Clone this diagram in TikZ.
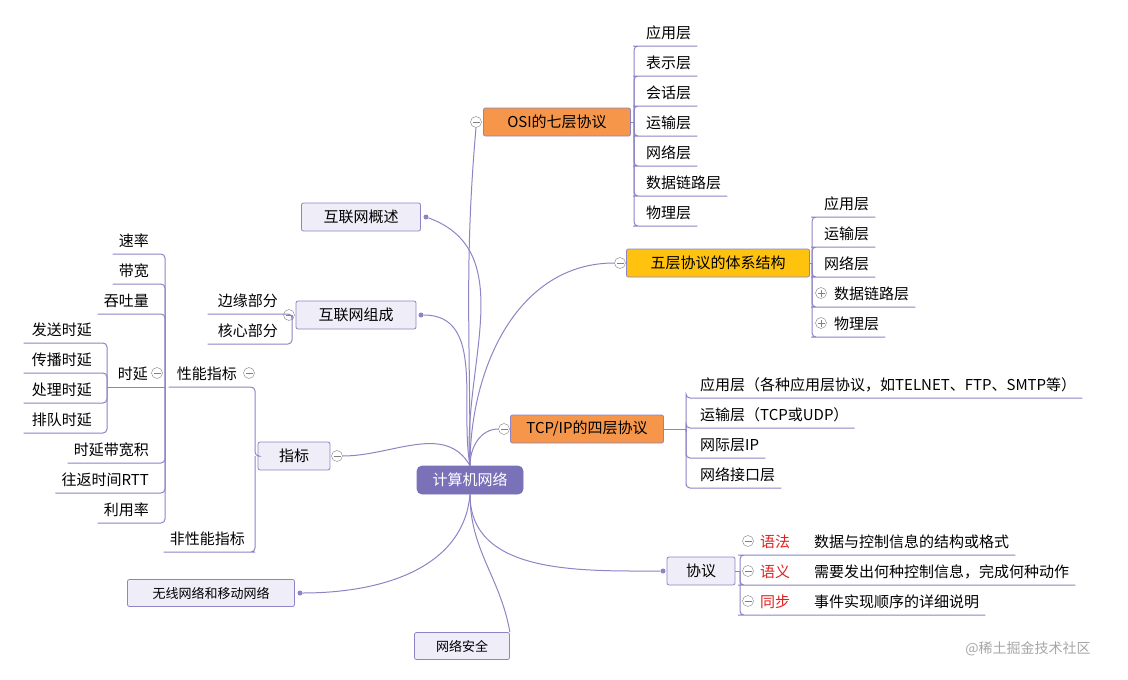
\documentclass[tikz,border=0pt]{standalone}
\usepackage{fontspec}
\setmainfont{Noto Sans CJK SC}
\usetikzlibrary{positioning}
\definecolor{linkc}{HTML}{8C84C4}
\definecolor{rootc}{HTML}{7A72B8}
\definecolor{boxc}{HTML}{EEEDF8}
\definecolor{orangec}{HTML}{F5964A}
\definecolor{yellowc}{HTML}{FFC20E}
\definecolor{redc}{HTML}{E02020}

\begin{document}
\begin{tikzpicture}[x=1pt, y=-1pt, font=\fontsize{15}{17}\selectfont,
  link/.style = {draw=linkc, line width=1pt},
  rounded link/.style = {link, rounded corners=4pt},
  topic/.style = {draw=linkc, fill=boxc, rounded corners=2pt, line width=0.8pt, minimum height=28pt, inner xsep=6pt},
  hot/.style = {topic, fill=orangec},
  leaf/.style = {inner xsep=6pt, inner ysep=6pt},
  minus/.style = {draw=gray, circle, fill=white, inner sep=0pt, minimum size=11pt,
    path picture={\draw[gray] ([xshift=-3.5pt]path picture bounding box.center) -- ([xshift=3.5pt]path picture bounding box.center);}},
  plus/.style = {minus, path picture={\draw[gray] ([xshift=-3.5pt]path picture bounding box.center) -- ([xshift=3.5pt]path picture bounding box.center) ([yshift=-3.5pt]path picture bounding box.center) -- ([yshift=3.5pt]path picture bounding box.center);}},
  dot/.style = {circle, fill=linkc, inner sep=0pt, minimum size=5pt}]
\useasboundingbox (0,0) rectangle (1128,680);

% centre
\node[topic, fill=rootc, draw=rootc, text=white, rounded corners=5pt, minimum width=106pt] (root) at (470,480) {计算机网络};

% right side
\node[hot, minimum width=147pt] (osi) at (557,122) {OSI的七层协议};
\node[minus] (osim) at (476,122) {};
\node[topic, fill=yellowc, minimum width=183pt] (five) at (718,263) {五层协议的体系结构};
\node[minus] (fivem) at (620,263) {};
\node[hot, minimum width=153pt] (tcp) at (587,429) {TCP/IP的四层协议};
\node[minus] (tcpm) at (504,429) {};
\node[topic, minimum width=68pt] (prot) at (701,571) {协议};
\node[dot] (protd) at (663,571) {};
\node[topic, minimum height=27pt, minimum width=95pt, font=\fontsize{13}{15}\selectfont] (sec) at (462,646) {网络安全};

% left side
\node[topic, minimum width=119pt] (over) at (361,217) {互联网概述};
\node[dot] (overd) at (426,217) {};
\node[topic, minimum width=120pt] (comp) at (356,315) {互联网组成};
\node[dot] (compd) at (421,315) {};
\node[minus] (compm) at (289,315) {};
\node[topic, minimum width=72pt] (ind) at (294,456) {指标};
\node[minus] (indm) at (337,456) {};
\node[topic, minimum height=27pt, minimum width=167pt, font=\fontsize{13}{15}\selectfont] (wire) at (211,593) {无线网络和移动网络};
\node[dot] (wired) at (300,593) {};

% links from the centre
\draw[link] (root.north) to[out=90, in=-95] (osim.south);
\draw[link] (root.north) to[out=90, in=180] (fivem.west);
\draw[link] (root.north) to[out=90, in=180] (tcpm.west);
\draw[link] (root.south) to[out=-90, in=180] (protd);
\draw[link] (root.south) to[out=-90, in=100] (sec.north east);
\draw[link] (root.north) to[out=95, in=-20] (overd);
\draw[link] (root.north) to[out=100, in=0] (compd);
\draw[link] (root.north) to[out=120, in=0] (indm.east);
\draw[link] (root.south) to[out=-95, in=0] (wired);

% OSI children
\coordinate (osib) at (634,122);
\draw[link] (osi.east) -- (osib);
\foreach \t [count=\i] in {应用层,表示层,会话层,运输层,网络层,数据链路层,物理层} {
  \node[leaf, anchor=south west] (osi\i) at (640,{32+30*(\i-1)+14}) {\t};
  \draw[rounded link] (osib) |- ([xshift=-3pt]osi\i.south west) -- (osi\i.south east);
}

% five-layer children
\coordinate (fiveb) at (812,263);
\draw[link] (five.east) -- (fiveb);
\foreach \t/\s [count=\i] in {应用层/0,运输层/0,网络层/0,数据链路层/10,物理层/10} {
  \node[leaf, anchor=south west, xshift=\s pt] (five\i) at (818,{203+30*(\i-1)+14}) {\t};
  \draw[rounded link] (fiveb) |- ([xshift=-\s pt-3pt]five\i.south west) -- (five\i.south east);
}
\node[plus] at (821,293) {};
\node[plus] at (821,323) {};

% TCP/IP children
\coordinate (tcpb) at (686,429);
\draw[link] (tcp.east) -- (tcpb);
\foreach \t [count=\i] in {应用层（各种应用层协议，如TELNET、FTP、SMTP等）,运输层（TCP或UDP）,网际层IP,网络接口层} {
  \node[leaf, anchor=south west, xshift=8pt] (tcp\i) at (686,{384+30*(\i-1)+14}) {\t};
  \draw[rounded link] (tcpb) |- ([xshift=-8pt]tcp\i.south west) -- (tcp\i.south east);
}

% protocol children
\coordinate (protb) at (740,571);
\draw[link] (prot.east) -- (protb);
\foreach \a/\b [count=\i] in {语法/数据与控制信息的结构或格式,语义/需要发出何种控制信息，完成何种动作,同步/事件实现顺序的详细说明} {
  \node[leaf, anchor=south west, text=redc] (pk\i) at (754,{541+30*(\i-1)+14}) {\a};
  \node[leaf, anchor=south west] (pv\i) at (808,{541+30*(\i-1)+14}) {\b};
  \draw[rounded link] (protb) |- ([xshift=-12pt]pk\i.south west) -- (pv\i.south east);
  \node[minus] at (748,{541+30*(\i-1)}) {};
}

% composition children
\coordinate (compb) at (292,315);
\foreach \t [count=\i] in {边缘部分,核心部分} {
  \node[leaf, anchor=south east] (comp\i) at (284,{300+30*(\i-1)+14}) {\t};
  \draw[rounded link] (compb) |- (comp\i.south east) -- ([xshift=-4pt]comp\i.south west);
}

% indicator children
\coordinate (indb) at (255,456);
\node[leaf, anchor=south east] (perf) at (243,387) {性能指标};
\node[minus] (perfm) at (249,373) {};
\node[leaf, anchor=south east] (nonperf) at (251,552) {非性能指标};
\draw[rounded link] (ind.west) -- (indb) |- (perf.south east) -- ([xshift=-2pt]perf.south west);
\draw[rounded link] (indb) |- (nonperf.south east) -- (nonperf.south west);

% performance children
\coordinate (perfb) at (165,387);
\foreach \t/\y [count=\i] in {速率/240,带宽/270,吞吐量/300,时延带宽积/449,往返时间RTT/479,利用率/509} {
  \node[leaf, anchor=south east] (pf\i) at (155,{\y+14}) {\t};
  \draw[rounded link] (perfb) |- (pf\i.south east) -- (pf\i.south west);
}
\node[leaf, anchor=south east] (delay) at (154,387) {时延};
\node[minus] (delaym) at (157,373) {};

% delay children
\coordinate (delayb) at (107,387);
\draw[link] (perfb) -- (delayb);
\foreach \t [count=\i] in {发送时延,传播时延,处理时延,排队时延} {
  \node[leaf, anchor=south east] (dl\i) at (98,{329+30*(\i-1)+14}) {\t};
  \draw[rounded link] (delayb) |- (dl\i.south east) -- ([xshift=-2pt]dl\i.south west);
}

\node[text=gray!70, font=\fontsize{14}{16}\selectfont] (mark) at (1028,649) {@稀土掘金技术社区};
\end{tikzpicture}
\end{document}
